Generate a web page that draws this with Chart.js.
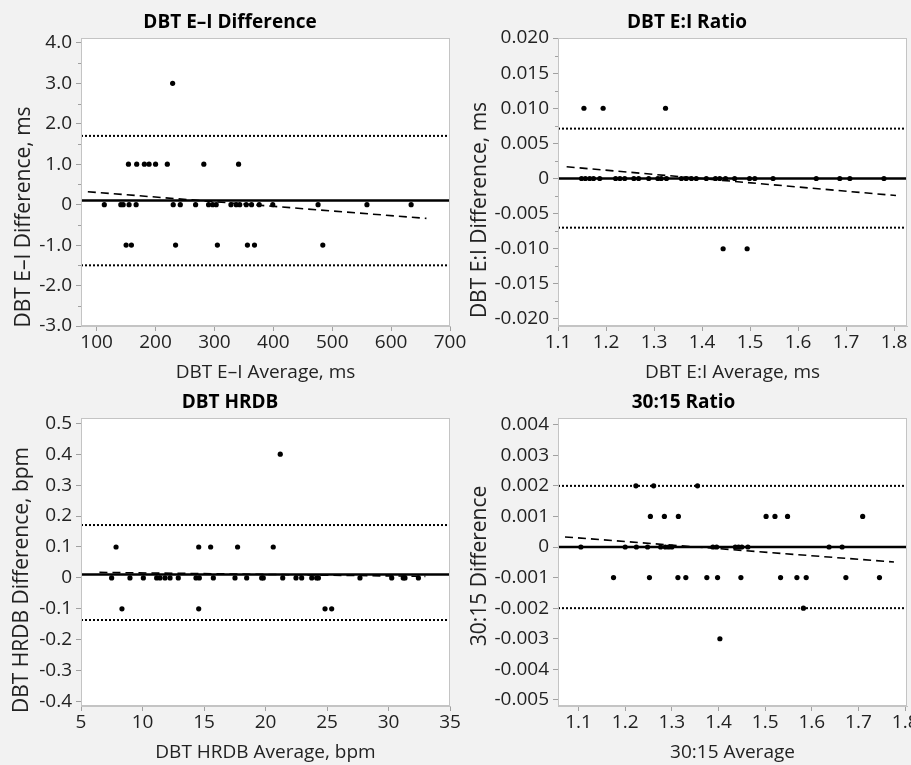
<!DOCTYPE html>
<html>
<head>
<meta charset="utf-8">
<script src="https://cdn.jsdelivr.net/npm/chart.js@4.4.0/dist/chart.umd.min.js"></script>
<style>
  html, body { margin: 0; padding: 0; background: #f2f2f2; }
  body { width: 911px; height: 765px; position: relative; overflow: hidden; }
  canvas { position: absolute; }
</style>
</head>
<body>
<canvas id="c1" width="475" height="385" style="left:0;top:0"></canvas>
<canvas id="c2" width="451" height="385" style="left:460px;top:0"></canvas>
<canvas id="c3" width="475" height="380" style="left:0;top:385px"></canvas>
<canvas id="c4" width="451" height="380" style="left:460px;top:385px"></canvas>
<script>
// ---- DBT E–I Difference ----
const eiAvg = [154, 168, 181, 189, 200, 220, 282, 341, 229,
  113, 141, 145, 155, 167, 230, 242, 268, 290, 297, 303, 328, 337, 343, 354, 363, 376, 399, 476, 559, 634,
  150, 159, 234, 305, 356, 368, 484];
const eiDiff = [1, 1, 1, 1, 1, 1, 1, 1, 3,
  0, 0, 0, 0, 0, 0, 0, 0, 0, 0, 0, 0, 0, 0, 0, 0, 0, 0, 0, 0, 0,
  -1, -1, -1, -1, -1, -1, -1];
const eiLines = [0.1, 1.7, -1.5];           // mean, upper LoA, lower LoA
const eiFitX = [85, 660];
const eiFitY = [0.32, -0.34];
const eiXTicks = ['100', '200', '300', '400', '500', '600', '700'];
const eiYTicks = ['-3.0', '-2.0', '-1.0', '0', '1.0', '2.0', '3.0', '4.0'];

// ---- DBT E:I Ratio ----
const ratioAvg = [1.154, 1.194, 1.324, 1.444, 1.494,
  1.149, 1.157, 1.166, 1.174, 1.187, 1.220, 1.229, 1.239, 1.258, 1.268, 1.289, 1.308, 1.315, 1.326, 1.357,
  1.367, 1.378, 1.388, 1.409, 1.428, 1.437, 1.449, 1.468, 1.499, 1.510, 1.548, 1.638, 1.687, 1.708, 1.779];
const ratioDiff = [0.01, 0.01, 0.01, -0.01, -0.01,
  0, 0, 0, 0, 0, 0, 0, 0, 0, 0, 0, 0, 0, 0, 0,
  0, 0, 0, 0, 0, 0, 0, 0, 0, 0, 0, 0, 0, 0, 0];
const ratioLines = [0, 0.0071, -0.0070];
const ratioFitX = [1.118, 1.804];
const ratioFitY = [0.00167, -0.00243];
const ratioXTicks = ['1.1', '1.2', '1.3', '1.4', '1.5', '1.6', '1.7', '1.8'];
const ratioYTicks = ['-0.020', '-0.015', '-0.010', '-0.005', '0', '0.005', '0.010', '0.015', '0.020'];

// ---- DBT HRDB ----
const hrdbAvg = [21.2, 7.85, 14.57, 15.54, 17.73, 20.63, 8.33, 14.57, 24.84, 25.38,
  7.49, 8.98, 10.07, 11.15, 11.42, 11.83, 12.24, 12.91, 14.35, 14.62, 15.76, 17.52, 18.47, 19.69,
  19.82, 21.40, 22.48, 22.94, 23.76, 24.16, 24.30, 27.68, 30.26, 31.20, 31.34, 32.43];
const hrdbDiff = [0.4, 0.1, 0.1, 0.1, 0.1, 0.1, -0.1, -0.1, -0.1, -0.1,
  0, 0, 0, 0, 0, 0, 0, 0, 0, 0, 0, 0, 0, 0,
  0, 0, 0, 0, 0, 0, 0, 0, 0, 0, 0, 0];
const hrdbLines = [0.011, 0.171, -0.136];
const hrdbFitX = [6.5, 33];
const hrdbFitY = [0.018, 0.005];
const hrdbXTicks = ['5', '10', '15', '20', '25', '30', '35'];
const hrdbYTicks = ['-0.4', '-0.3', '-0.2', '-0.1', '0', '0.1', '0.2', '0.3', '0.4', '0.5'];

// ---- 30:15 Ratio ----
const r3015Avg = [1.223, 1.261, 1.355,
  1.254, 1.284, 1.314, 1.502, 1.521, 1.548, 1.709,
  1.105, 1.200, 1.224, 1.248, 1.276, 1.286, 1.293, 1.300, 1.388, 1.396, 1.436, 1.443, 1.450, 1.463, 1.637, 1.665,
  1.175, 1.252, 1.313, 1.330, 1.375, 1.398, 1.448, 1.533, 1.568, 1.588, 1.673, 1.745,
  1.582, 1.403];
const r3015Diff = [0.002, 0.002, 0.002,
  0.001, 0.001, 0.001, 0.001, 0.001, 0.001, 0.001,
  0, 0, 0, 0, 0, 0, 0, 0, 0, 0, 0, 0, 0, 0, 0, 0,
  -0.001, -0.001, -0.001, -0.001, -0.001, -0.001, -0.001, -0.001, -0.001, -0.001, -0.001, -0.001,
  -0.002, -0.003];
const r3015Lines = [0, 0.002, -0.002];
const r3015FitX = [1.071, 1.776];
const r3015FitY = [0.00033, -0.00049];
const r3015XTicks = ['1.1', '1.2', '1.3', '1.4', '1.5', '1.6', '1.7', '1.8'];
const r3015YTicks = ['-0.005', '-0.004', '-0.003', '-0.002', '-0.001', '0', '0.001', '0.002', '0.003', '0.004'];

Chart.defaults.font.family = "'Open Sans', sans-serif";
Chart.defaults.font.size = 19;
Chart.defaults.color = '#222';

// white plot area, grey frame, minor ticks and the rotated y title
const framePlugin = {
    id: 'frame',
    beforeDraw(chart) {
        const { ctx, chartArea: a } = chart;
        ctx.save();
        ctx.fillStyle = '#fff';
        ctx.fillRect(a.left, a.top, a.right - a.left, a.bottom - a.top);
        ctx.restore();
    },
    afterDraw(chart, args, opts) {
        const { ctx, chartArea: a } = chart;
        ctx.save();
        ctx.strokeStyle = '#c4c4c4';
        ctx.lineWidth = 1;
        ctx.strokeRect(a.left + 0.5, a.top + 0.5, a.right - a.left - 1, a.bottom - a.top - 1);
        ctx.strokeStyle = '#a0a0a0';
        (opts.minor || []).forEach(v => {
            const py = Math.round(chart.scales.y.getPixelForValue(v)) + 0.5;
            ctx.beginPath();
            ctx.moveTo(a.left - 3, py);
            ctx.lineTo(a.left, py);
            ctx.stroke();
        });
        ctx.translate(opts.titleX, opts.titleY);
        ctx.rotate(-Math.PI / 2);
        ctx.font = "21px 'Open Sans', sans-serif";
        ctx.fillStyle = '#222';
        ctx.textAlign = 'center';
        ctx.textBaseline = 'middle';
        ctx.fillText(opts.title, 0, 0);
        ctx.restore();
    }
};

function hline(v, x0, x1, dash, width) {
    return {
        type: 'line',
        data: [{ x: x0, y: v }, { x: x1, y: v }],
        borderColor: '#000',
        borderWidth: width,
        borderDash: dash,
        pointRadius: 0,
        order: 2
    };
}

function makeChart(id, p) {
    const points = p.xs.map((x, i) => ({ x: x, y: p.ys[i] }));
    const xVals = p.xTicks.map(Number);
    const yVals = p.yTicks.map(Number);
    const minor = [];
    for (let i = 0; i < yVals.length - 1; i++) minor.push((yVals[i] + yVals[i + 1]) / 2);
    return new Chart(document.getElementById(id), {
        type: 'scatter',
        data: {
            datasets: [
                {
                    data: points,
                    backgroundColor: '#000',
                    borderColor: '#000',
                    pointRadius: 2.6,
                    pointBorderWidth: 0,
                    order: 0
                },
                hline(p.lines[0], p.xMin, p.xMax, [], 2.5),
                hline(p.lines[1], p.xMin, p.xMax, [2, 2], 2),
                hline(p.lines[2], p.xMin, p.xMax, [2, 2], 2),
                {
                    type: 'line',
                    data: [{ x: p.fitX[0], y: p.fitY[0] }, { x: p.fitX[1], y: p.fitY[1] }],
                    borderColor: '#000',
                    borderWidth: 1.6,
                    borderDash: [8, 5],
                    pointRadius: 0,
                    order: 1
                }
            ]
        },
        options: {
            responsive: false,
            animation: false,
            layout: { padding: { left: p.padL, right: p.padR, top: 0, bottom: 0 } },
            plugins: {
                legend: { display: false },
                tooltip: { enabled: false },
                title: {
                    display: true,
                    text: p.title,
                    color: '#000',
                    font: { size: 19, weight: 'bold' },
                    padding: { top: p.titleTop, bottom: p.titleBottom }
                },
                frame: {
                    title: p.yTitle, titleX: p.yTitleX, titleY: p.yTitleY,
                    minor: p.minorTicks ? minor : []
                }
            },
            scales: {
                x: {
                    type: 'linear',
                    min: p.xMin,
                    max: p.xMax,
                    afterBuildTicks: s => { s.ticks = xVals.map(v => ({ value: v })); },
                    afterFit: s => { s.height = 59; s.paddingLeft = 0; s.paddingRight = 0; },
                    ticks: { autoSkip: false, maxRotation: 0, padding: 0, callback: (v, i) => p.xTicks[i] },
                    grid: { drawOnChartArea: false, drawTicks: true, tickLength: 5, tickColor: '#a0a0a0' },
                    border: { color: '#c4c4c4' },
                    title: { display: true, text: p.xTitle, font: { size: 19 }, padding: { top: 0, bottom: 1 } }
                },
                y: {
                    type: 'linear',
                    min: p.yMin,
                    max: p.yMax,
                    afterBuildTicks: s => { s.ticks = yVals.map(v => ({ value: v })); },
                    afterFit: s => { s.width = p.yWidth; s.paddingTop = 0; s.paddingBottom = 0; },
                    ticks: { autoSkip: false, padding: 4, callback: (v, i) => p.yTicks[i] },
                    grid: { drawOnChartArea: false, drawTicks: true, tickLength: 5, tickColor: '#a0a0a0' },
                    border: { color: '#c4c4c4' }
                }
            }
        },
        plugins: [framePlugin]
    });
}

makeChart('c1', {
    title: 'DBT E\u2013I Difference', xTitle: 'DBT E\u2013I Average, ms', yTitle: 'DBT E\u2013I Difference, ms',
    xs: eiAvg, ys: eiDiff, lines: eiLines, fitX: eiFitX, fitY: eiFitY,
    xTicks: eiXTicks, yTicks: eiYTicks, xMin: 73.4, xMax: 700, yMin: -3, yMax: 4.12,
    padL: 10, padR: 25, yWidth: 71, titleTop: 11.6, titleBottom: 3.6,
    yTitleX: 24, yTitleY: 217, minorTicks: true
});

makeChart('c2', {
    title: 'DBT E:I Ratio', xTitle: 'DBT E:I Average, ms', yTitle: 'DBT E:I Difference, ms',
    xs: ratioAvg, ys: ratioDiff, lines: ratioLines, fitX: ratioFitX, fitY: ratioFitY,
    xTicks: ratioXTicks, yTicks: ratioYTicks, xMin: 1.1, xMax: 1.827, yMin: -0.021, yMax: 0.020,
    padL: 7, padR: 4, yWidth: 91, titleTop: 11.6, titleBottom: 3.6,
    yTitleX: 20, yTitleY: 210, minorTicks: true
});

makeChart('c3', {
    title: 'DBT HRDB', xTitle: 'DBT HRDB Average, bpm', yTitle: 'DBT HRDB Difference, bpm',
    xs: hrdbAvg, ys: hrdbDiff, lines: hrdbLines, fitX: hrdbFitX, fitY: hrdbFitY,
    xTicks: hrdbXTicks, yTicks: hrdbYTicks, xMin: 5, xMax: 35, yMin: -0.414, yMax: 0.517,
    padL: 10, padR: 25, yWidth: 71, titleTop: 6.6, titleBottom: 3.6,
    yTitleX: 22, yTitleY: 195, minorTicks: false
});

makeChart('c4', {
    title: '30:15 Ratio', xTitle: '30:15 Average', yTitle: '30:15 Difference',
    xs: r3015Avg, ys: r3015Diff, lines: r3015Lines, fitX: r3015FitX, fitY: r3015FitY,
    xTicks: r3015XTicks, yTicks: r3015YTicks, xMin: 1.056, xMax: 1.804, yMin: -0.0052, yMax: 0.00422,
    padL: 0, padR: 4, yWidth: 98, titleTop: 6.6, titleBottom: 3.6,
    yTitleX: 20, yTitleY: 181, minorTicks: false
});
</script>
</body>
</html>
